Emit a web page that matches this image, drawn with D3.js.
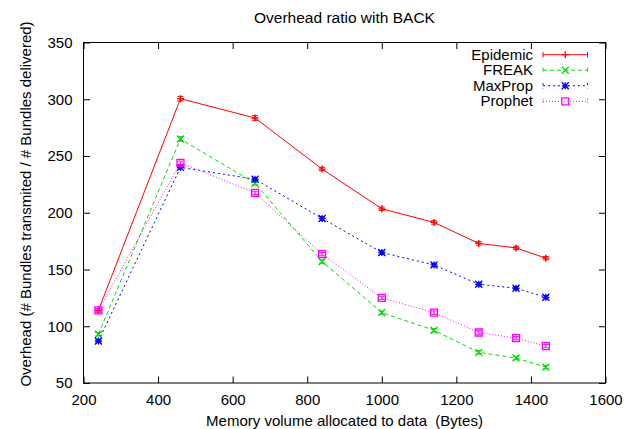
<!DOCTYPE html>
<html><head><meta charset="utf-8">
<script src="https://cdn.jsdelivr.net/npm/d3@7"></script>
<style>body{margin:0;background:#fff}svg{display:block;font-family:"Liberation Sans",Arial,sans-serif}</style>
</head><body>
<svg id="c" width="626" height="429"></svg>
<script>
const xValues = [240, 460, 660, 840, 1000, 1140, 1260, 1360, 1440];
const epidemic = [114, 300.5, 283.5, 238.5, 203.5, 191.5, 173, 169, 160];
const freak = [93, 265, 226, 157, 112, 96.5, 77, 72, 64];
const maxprop = [87, 240, 229.5, 195, 165, 154, 137, 133.5, 125.5];
const prophet = [114, 244, 217.5, 163.5, 125, 112, 94.5, 89.5, 82.5];
const epidemicErr = [1.5, 2, 2, 1.5, 1.5, 1.5, 1.5, 1.5, 1.5];
const freakErr = [1.5, 2, 1.5, 1.5, 1.5, 1.5, 1.5, 1.5, 1.5];
const maxpropErr = [1.5, 1.5, 1.5, 1.5, 1.5, 1.5, 1.5, 1.5, 1.5];
const prophetErr = [1.5, 1.5, 1.5, 1.5, 1.5, 1.5, 1.5, 1.5, 1.5];
const seriesNames = ["Epidemic", "FREAK", "MaxProp", "Prophet"];
const xTicks = [200, 400, 600, 800, 1000, 1200, 1400, 1600];
const yTicks = [50, 100, 150, 200, 250, 300, 350];

const colors = ["#ff0000", "#00dd00", "#0000ff", "#ff00ff"];
const dashes = [null, "4,3", "2,3", "1,2"];
const markers = ["plus", "cross", "star", "square"];
const allVals = [epidemic, freak, maxprop, prophet];
const allErr = [epidemicErr, freakErr, maxpropErr, prophetErr];

const FS = 15;
const L = 83.5, R = 605.5, T = 42.5, B = 383;
const svg = d3.select("#c");
const x = d3.scaleLinear().domain([200, 1600]).range([L, R]);
const y = d3.scaleLinear().domain([50, 350]).range([B, T]);

function markerPath(t, s) {
  const h = s / 2;
  if (t === "plus") return `M${-h},0H${h}M0,${-h}V${h}`;
  if (t === "cross") return `M${-h},${-h}L${h},${h}M${-h},${h}L${h},${-h}`;
  if (t === "star") return `M${-h},0H${h}M0,${-h}V${h}M${-h},${-h}L${h},${h}M${-h},${h}L${h},${-h}`;
  return `M${-h},${-h}H${h}V${h}H${-h}Z`;
}

// axes with inward ticks
const tick = 6.5;
const gx = svg.append("g").attr("transform", `translate(0,${B})`)
  .call(d3.axisBottom(x).tickValues(xTicks).tickSize(-tick).tickPadding(11).tickFormat(d3.format("d")));
const gxt = svg.append("g").attr("transform", `translate(0,${T})`)
  .call(d3.axisTop(x).tickValues(xTicks).tickSize(-tick).tickFormat(""));
const gy = svg.append("g").attr("transform", `translate(${L},0)`)
  .call(d3.axisLeft(y).tickValues(yTicks).tickSize(-tick).tickPadding(11));
const gyr = svg.append("g").attr("transform", `translate(${R},0)`)
  .call(d3.axisRight(y).tickValues(yTicks).tickSize(-tick).tickFormat(""));
[gx, gxt, gy, gyr].forEach(g => {
  g.select(".domain").remove();
  g.selectAll("line").attr("stroke", "#000");
  g.selectAll("text").attr("font-size", FS).attr("fill", "#000")
    .attr("font-family", "Liberation Sans, Arial, sans-serif");
});
svg.append("rect").attr("x", L).attr("y", T).attr("width", R - L).attr("height", B - T)
  .attr("fill", "none").attr("stroke", "#000").attr("stroke-width", 1);

svg.append("text").attr("x", (L + R) / 2).attr("y", 23).attr("text-anchor", "middle")
  .attr("font-size", FS + 0.5).text("Overhead ratio with BACK");
svg.append("text").attr("x", (L + R) / 2).attr("y", 425.5).attr("text-anchor", "middle")
  .attr("font-size", FS).style("white-space", "pre")
  .text("Memory volume allocated to data  (Bytes)");
svg.append("text").attr("transform", `translate(31,204) rotate(-90)`)
  .attr("text-anchor", "middle").attr("font-size", FS)
  .text("Overhead (# Bundles transmited / # Bundles delivered)");

const line = d3.line().x(d => x(d[0])).y(d => y(d[1]));
allVals.forEach((vals, i) => {
  const pts = xValues.map((xv, j) => [xv, vals[j], allErr[i][j]]);
  const g = svg.append("g");
  g.append("path").datum(pts).attr("d", line).attr("fill", "none")
    .attr("stroke", colors[i]).attr("stroke-width", 1)
    .attr("stroke-dasharray", dashes[i]);
  pts.forEach(p => {
    const cx = x(p[0]), y1 = y(p[1] + p[2]), y2 = y(p[1] - p[2]);
    g.append("path").attr("d", `M${cx},${y1}V${y2}M${cx - 3},${y1}H${cx + 3}M${cx - 3},${y2}H${cx + 3}`)
      .attr("stroke", colors[i]).attr("stroke-width", 1).attr("fill", "none");
    g.append("path").attr("transform", `translate(${cx},${y(p[1])})`)
      .attr("d", markerPath(markers[i], 7)).attr("fill", "none")
      .attr("stroke", colors[i]).attr("stroke-width", 1.3);
  });
});

// legend
const lgY0 = 54.7, lgDy = 15.55, lgTx = 533, lgX1 = 543, lgX2 = 587.5;
seriesNames.forEach((name, i) => {
  const yy = lgY0 + i * lgDy;
  svg.append("text").attr("x", lgTx).attr("y", yy + 5).attr("text-anchor", "end")
    .attr("font-size", FS).text(name);
  svg.append("path").attr("d", `M${lgX1},${yy}H${lgX2}M${lgX1},${yy - 2.7}V${yy + 2.7}M${lgX2},${yy - 2.7}V${yy + 2.7}`)
    .attr("stroke", colors[i]).attr("fill", "none").attr("stroke-width", 1)
    .attr("stroke-dasharray", dashes[i]);
  svg.append("path").attr("transform", `translate(${(lgX1 + lgX2) / 2},${yy})`)
    .attr("d", markerPath(markers[i], 7)).attr("fill", "none")
    .attr("stroke", colors[i]).attr("stroke-width", 1.3);
});
</script>
</body></html>
